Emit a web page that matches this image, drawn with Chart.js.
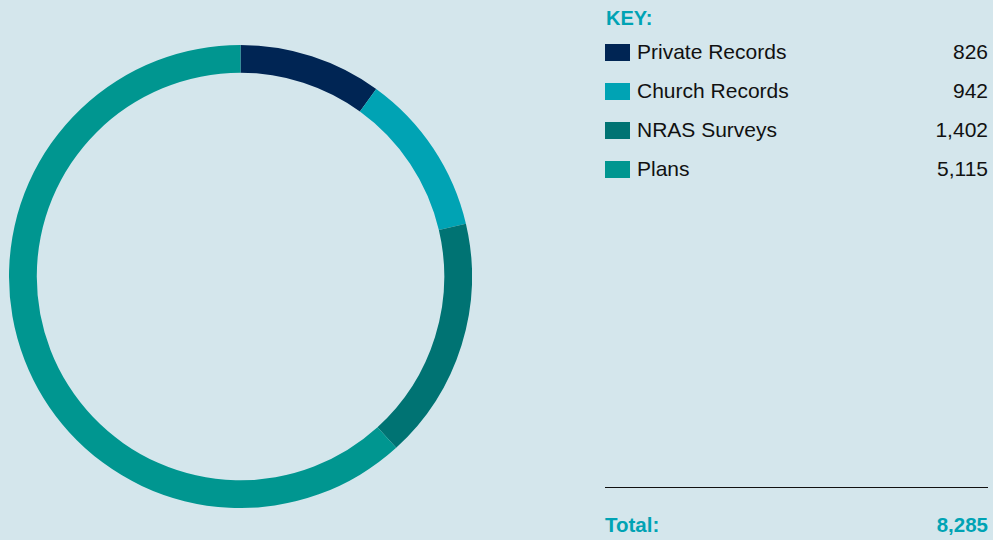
<!DOCTYPE html>
<html>
<head>
<meta charset="utf-8">
<script src="https://cdn.jsdelivr.net/npm/chart.js@4/dist/chart.umd.min.js"></script>
<style>
  html, body { margin: 0; padding: 0; }
  body {
    width: 993px; height: 540px; overflow: hidden;
    background: #d4e6ec;
    font-family: 'Liberation Sans', Arial, sans-serif;
    position: relative;
  }
  #wrap { position: absolute; left: 9px; top: 45px; width: 463px; height: 463px; }
  #key { position: absolute; left: 605px; top: 0; width: 383px; }
  .key-title { position: absolute; top: 7px; left: 1px; font-weight: bold; font-size: 20px; color: #00a3b4; }
  .row { position: absolute; left: 0; width: 383px; height: 24px; font-size: 21px; color: #111; }
  .sw { position: absolute; left: 0; top: 4px; width: 25px; height: 17px; }
  .lbl { position: absolute; left: 32px; top: 0; }
  .val { position: absolute; right: 0; top: 0; }
  #rule { position: absolute; left: 605px; top: 487px; width: 383px; height: 0; border-top: 1.5px solid #111; }
  #total { position: absolute; left: 605px; top: 513px; width: 383px; font-weight: bold; font-size: 20.5px; color: #00a3b4; }
  #total .val { right: 0; }
</style>
</head>
<body>
<div id="wrap"><canvas id="donut"></canvas></div>
<div id="key"><div class="key-title">KEY:</div></div>
<div id="rule"></div>
<div id="total"><span>Total:</span><span class="val" id="totalVal"></span></div>
<script>
const categories = ['Private Records', 'Church Records', 'NRAS Surveys', 'Plans'];
const counts = [826, 942, 1402, 5115];
const colours = ['#002554', '#00a3b4', '#007373', '#009690'];

const fmt = n => n.toLocaleString('en-GB');

// legend on the right, built from the same arrays
const key = document.getElementById('key');
categories.forEach((name, i) => {
    const row = document.createElement('div');
    row.className = 'row';
    row.style.top = (40 + i * 39) + 'px';
    row.innerHTML = '<span class="sw" style="background:' + colours[i] + '"></span>' +
        '<span class="lbl">' + name + '</span><span class="val">' + fmt(counts[i]) + '</span>';
    key.appendChild(row);
});
document.getElementById('totalVal').textContent = fmt(counts.reduce((a, b) => a + b, 0));

new Chart(document.getElementById('donut'), {
    type: 'doughnut',
    data: {
        labels: categories,
        datasets: [{
            data: counts,
            backgroundColor: colours,
            borderWidth: 0,
            offset: 0,
            hoverOffset: 0
        }]
    },
    options: {
        responsive: true,
        maintainAspectRatio: false,
        animation: false,
        cutout: '88%',
        layout: { padding: 0 },
        plugins: {
            legend: { display: false },
            tooltip: { enabled: false }
        }
    }
});
</script>
</body>
</html>
